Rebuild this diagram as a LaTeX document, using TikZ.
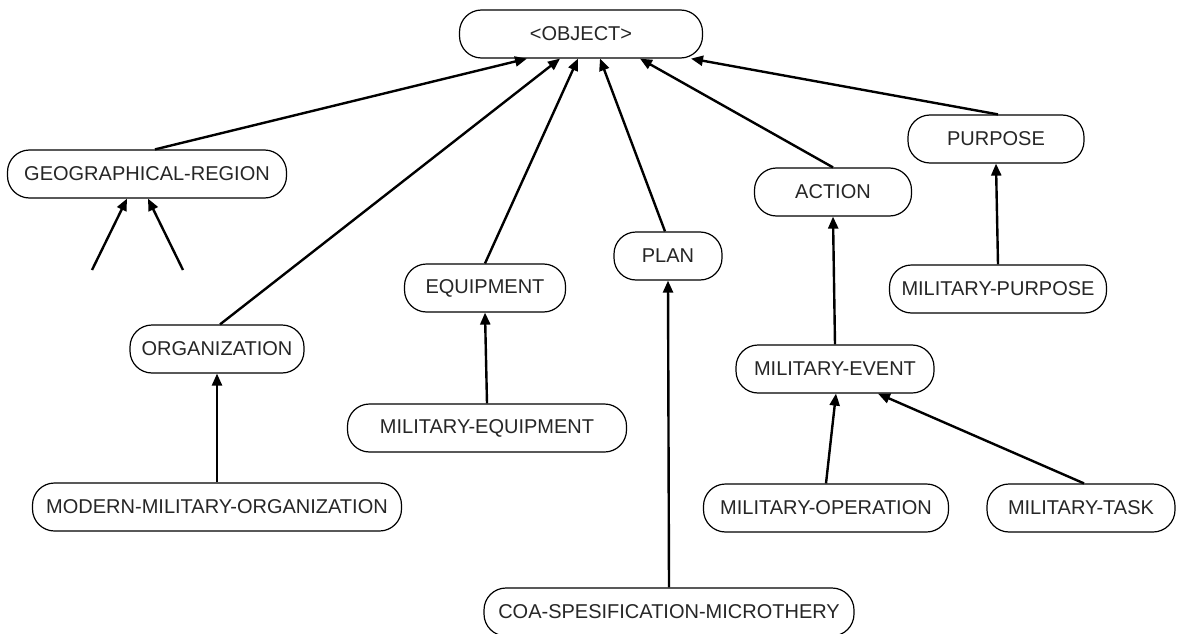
\documentclass[tikz,border=0pt]{standalone}
\usepackage{fontspec}
\setmainfont{Liberation Sans}
\usetikzlibrary{arrows.meta}
\definecolor{labelgray}{HTML}{262626}
\begin{document}
\begin{tikzpicture}[x=1pt,y=-1pt,
  concept/.style={draw=black, line width=1.2pt, rounded corners=22pt,
    minimum height=48pt, inner sep=0pt, fill=white,
    font=\fontsize{20}{24}\selectfont, text=labelgray},
  isa/.style={line width=2.4pt, -{Triangle[length=12pt,width=10pt]}}]
\useasboundingbox (0,0) rectangle (1181,634);

% concepts
\node[concept, minimum width=243pt] (obj)      at (581,34)  {<OBJECT>};
\node[concept, minimum width=279pt] (geo)      at (147,174) {GEOGRAPHICAL-REGION};
\node[concept, minimum width=174pt] (org)      at (217,349) {ORGANIZATION};
\node[concept, minimum width=161pt] (equip)    at (485,288) {EQUIPMENT};
\node[concept, minimum width=279pt] (mileq)    at (487,428) {MILITARY-EQUIPMENT};
\node[concept, minimum width=108pt] (plan)     at (668,256) {PLAN};
\node[concept, minimum width=157pt] (action)   at (833,192) {ACTION};
\node[concept, minimum width=176pt] (purpose)  at (996,139) {PURPOSE};
\node[concept, minimum width=217pt] (milpurp)  at (998,289) {MILITARY-PURPOSE};
\node[concept, minimum width=198pt] (milevent) at (835,369) {MILITARY-EVENT};
\node[concept, minimum width=245pt] (milop)    at (826,508) {MILITARY-OPERATION};
\node[concept, minimum width=188pt] (miltask)  at (1081,508) {MILITARY-TASK};
\node[concept, minimum width=369pt] (modorg)   at (217,507) {MODERN-MILITARY-ORGANIZATION};
\node[concept, minimum width=370pt] (coa)      at (669,612) {COA-SPESIFICATION-MICROTHERY};

% loose ends below the region concept
\coordinate (g1) at (92,270);
\coordinate (g2) at (183,270);

% is-a links
\draw[isa] ([xshift=8pt]geo.north)     -- ([xshift=-54pt]obj.south);
\draw[isa] ([xshift=3pt]org.north)     -- ([xshift=-21pt]obj.south);
\draw[isa] (equip.north)               -- ([xshift=-3pt]obj.south);
\draw[isa] ([xshift=-3pt]plan.north)   -- ([xshift=19pt]obj.south);
\draw[isa] (action.north)              -- ([xshift=59pt]obj.south);
\draw[isa] ([xshift=2pt]purpose.north) -- ([xshift=110pt]obj.south);

\draw[isa] (g1) -- ([xshift=-20pt]geo.south);
\draw[isa] (g2) -- ([xshift=1pt]geo.south);

\draw[isa] (modorg.north)  -- (org.south);
\draw[isa] (mileq.north)   -- (equip.south);
\draw[isa] (coa.north)     -- (plan.south);
\draw[isa] (milevent.north) -- (action.south);
\draw[isa] (milpurp.north) -- (purpose.south);
\draw[isa] (milop.north)   -- ([xshift=1pt]milevent.south);
\draw[isa] ([xshift=3pt]miltask.north) -- ([xshift=43pt]milevent.south);
\end{tikzpicture}
\end{document}
